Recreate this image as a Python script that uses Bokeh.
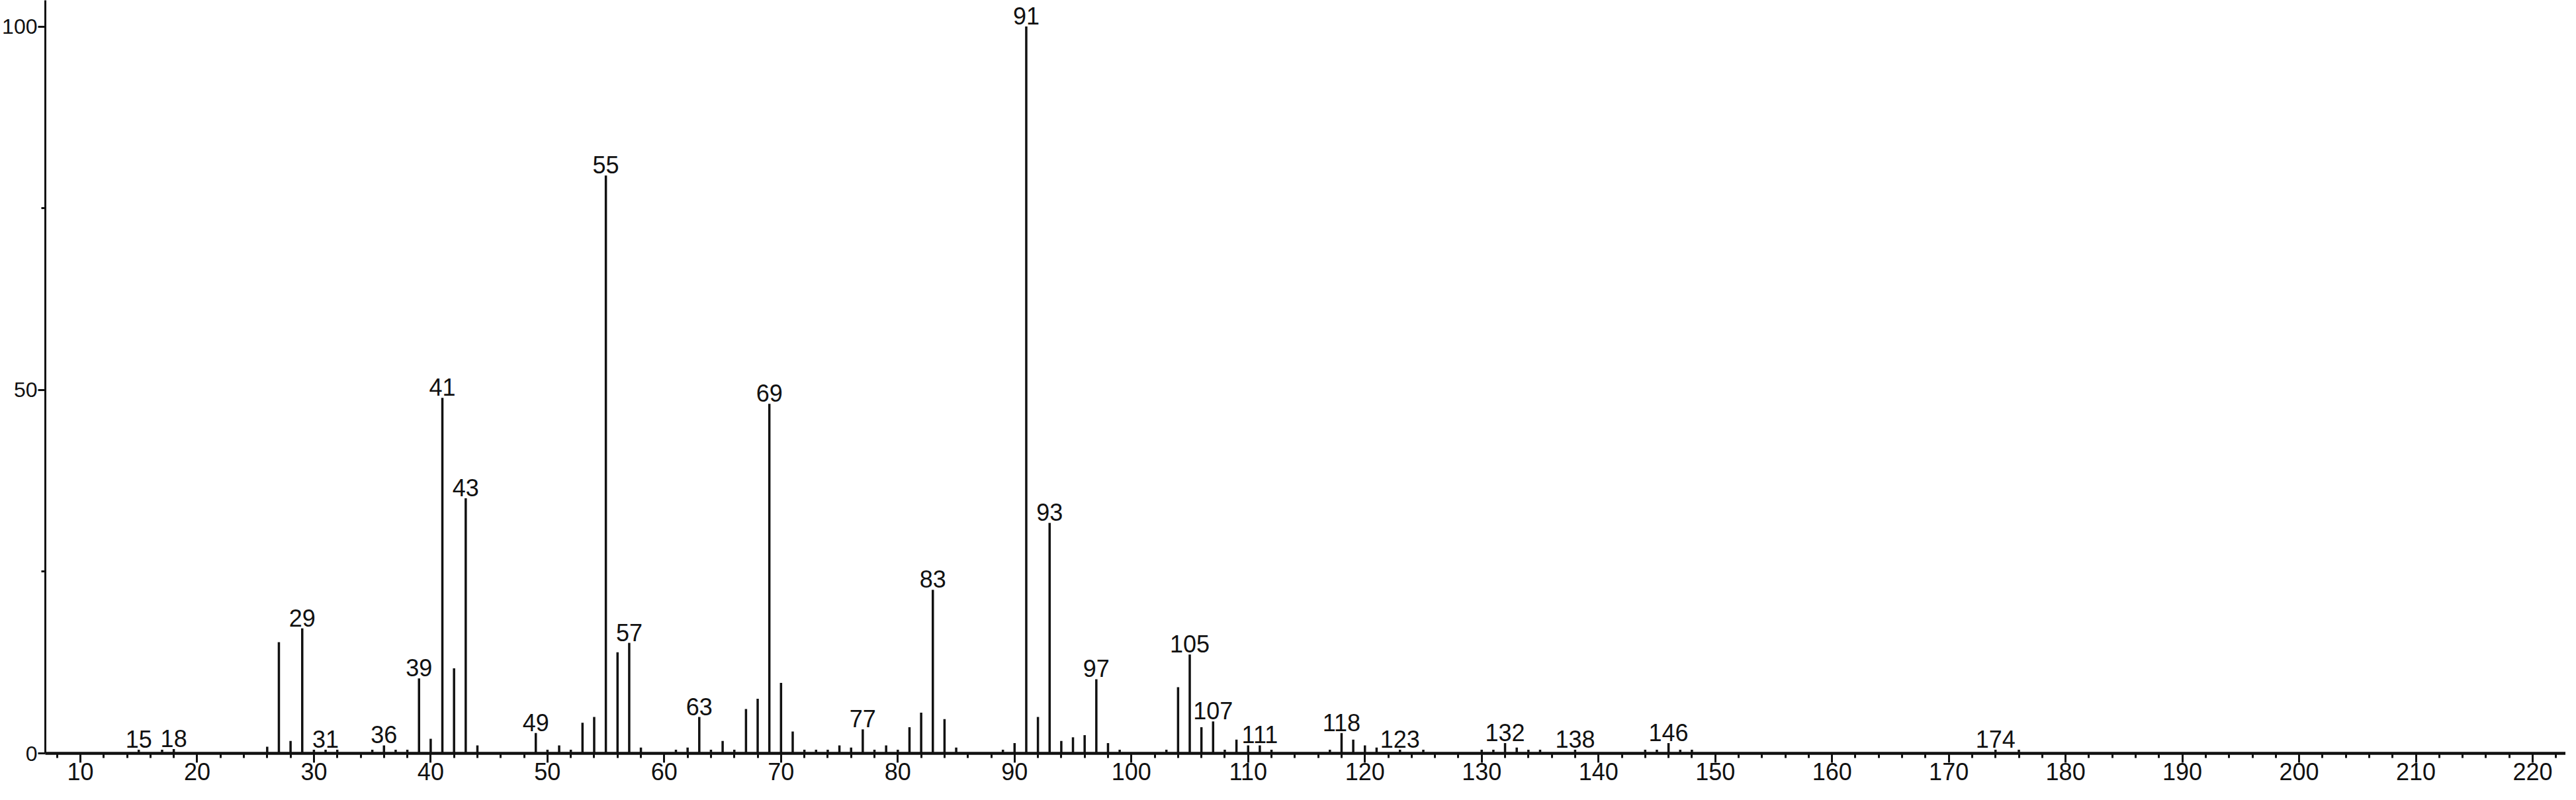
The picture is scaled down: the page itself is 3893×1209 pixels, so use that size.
from bokeh.plotting import figure
from bokeh.models import Range1d, FixedTicker, SingleIntervalTicker, ColumnDataSource
from bokeh.embed import file_html
from bokeh.resources import INLINE
from bokeh.core.properties import value

# ---- data: m/z and relative intensity (%) ----
mz = [15, 17, 18, 26, 27, 28, 29, 30, 31, 32, 35, 36, 37, 38, 39, 40, 41, 42, 43, 44,
      49, 50, 51, 52, 53, 54, 55, 56, 57, 58, 61, 62, 63, 64, 65, 66, 67, 68, 69, 70,
      71, 72, 73, 74, 75, 76, 77, 78, 79, 80, 81, 82, 83, 84, 85, 89, 90, 91, 92, 93,
      94, 95, 96, 97, 98, 99, 103, 104, 105, 106, 107, 108, 109, 110, 111, 112,
      117, 118, 119, 120, 121, 123, 125, 130, 131, 132, 133, 134, 135, 138,
      144, 145, 146, 147, 148, 174, 176]
intensity = [0.5, 0.5, 0.6, 0.9, 15.3, 1.7, 17.2, 0.5, 0.5, 0.5, 0.5, 1.1, 0.5, 0.5, 10.3, 2.0, 48.9, 11.7, 35.1, 1.1,
             2.8, 0.5, 1.1, 0.5, 4.2, 5.0, 79.5, 13.9, 15.2, 0.8, 0.5, 0.8, 5.0, 0.5, 1.7, 0.5, 6.1, 7.5, 48.1, 9.7,
             3.0, 0.5, 0.5, 0.5, 1.1, 0.8, 3.3, 0.5, 1.1, 0.5, 3.6, 5.6, 22.5, 4.7, 0.8, 0.5, 1.4, 100.0, 5.0, 31.7,
             1.7, 2.2, 2.5, 10.2, 1.4, 0.5, 0.5, 9.1, 13.6, 3.6, 4.4, 0.5, 1.9, 1.1, 1.1, 0.5,
             0.5, 2.8, 1.9, 1.1, 0.8, 0.5, 0.5, 0.5, 0.5, 1.4, 0.8, 0.5, 0.5, 0.5,
             0.5, 0.5, 1.4, 0.5, 0.5, 0.5, 0.5]
labeled_mz = [15, 18, 29, 31, 36, 39, 41, 43, 49, 55, 57, 63, 69, 77, 83, 91, 93, 97,
              105, 107, 111, 118, 123, 132, 138, 146, 174]
y_major_ticks = [0, 50, 100]
y_minor_ticks = [25, 75]
x_tick_interval = 10

INK = "#111111"
FONT = "Liberation Sans"

lookup = dict(zip(mz, intensity))
peaks = ColumnDataSource(dict(x=mz, y0=[0] * len(mz), y1=intensity))
labels = ColumnDataSource(dict(x=labeled_mz, y=[lookup[m] for m in labeled_mz],
                               t=[str(m) for m in labeled_mz]))

p = figure(width=3877, height=1193, output_backend="svg", toolbar_location=None,
           x_range=Range1d(7.0, 222.83), y_range=Range1d(0, 103.6),
           min_border_left=0, min_border_right=0, min_border_top=0, min_border_bottom=55)
p.grid.visible = False
p.outline_line_color = None
p.background_fill_color = "white"
p.border_fill_color = "white"

p.segment(x0="x", y0="y0", x1="x", y1="y1", source=peaks,
          line_color=INK, line_width=3.5, line_cap="butt")
p.text(x="x", y="y", text="t", source=labels, text_align="center",
       text_baseline="bottom", y_offset=-3,
       text_font=value(FONT), text_font_size="36px", text_color=INK)

xa = p.xaxis[0]
xa.ticker = SingleIntervalTicker(interval=x_tick_interval, num_minor_ticks=5)
xa.axis_line_color = INK
xa.axis_line_width = 4.5
xa.major_tick_line_color = INK
xa.minor_tick_line_color = INK
xa.major_tick_line_width = 3
xa.minor_tick_line_width = 3
xa.major_tick_in = 0
xa.major_tick_out = 14
xa.minor_tick_in = 0
xa.minor_tick_out = 7
xa.major_label_standoff = 0
xa.major_label_text_font = FONT
xa.major_label_text_font_size = "36px"
xa.major_label_text_color = INK

ya = p.yaxis[0]
ya.ticker = FixedTicker(ticks=y_major_ticks, minor_ticks=y_minor_ticks)
ya.axis_line_color = INK
ya.axis_line_width = 3
ya.major_tick_line_color = INK
ya.minor_tick_line_color = INK
ya.major_tick_line_width = 3
ya.minor_tick_line_width = 3
ya.major_tick_in = 0
ya.major_tick_out = 11
ya.minor_tick_in = 0
ya.minor_tick_out = 6
ya.major_label_standoff = 1
ya.major_label_text_font = FONT
ya.major_label_text_font_size = "32px"
ya.major_label_text_color = INK

open("out.html", "w").write(file_html(p, INLINE))
